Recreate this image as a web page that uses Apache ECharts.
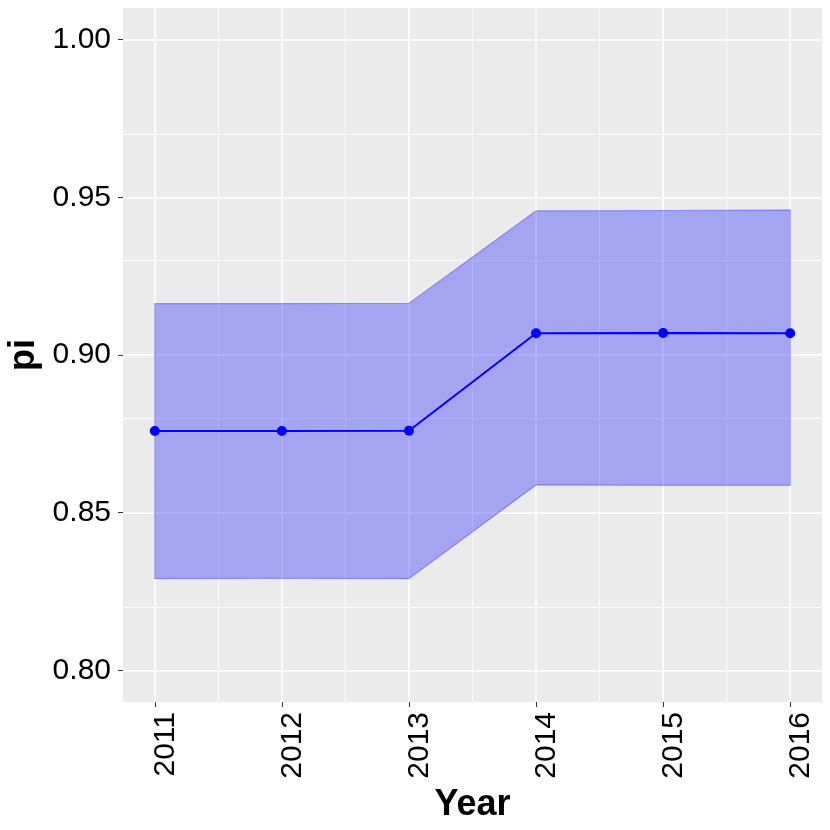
<!DOCTYPE html>
<html><head><meta charset="utf-8">
<script src="https://cdn.jsdelivr.net/npm/echarts@6/dist/echarts.min.js"></script>
<style>html,body{margin:0;padding:0;background:#fff}#c{width:830px;height:830px}</style>
</head><body><div id="c"></div>
<script>
const years = [2011, 2012, 2013, 2014, 2015, 2016];
const piMean = [0.8759, 0.8759, 0.8760, 0.9069, 0.9070, 0.9069];
const piLower = [0.8291, 0.8292, 0.8291, 0.8588, 0.8587, 0.8587];
const piUpper = [0.9163, 0.9163, 0.9164, 0.9457, 0.9458, 0.9460];
const yTicks = [0.80, 0.85, 0.90, 0.95, 1.00];
const yMinor = [0.825, 0.875, 0.925, 0.975];
const xTicks = [2011, 2012, 2013, 2014, 2015, 2016];
const xMinor = [2011.5, 2012.5, 2013.5, 2014.5, 2015.5];

const FONT = '"Liberation Sans", Arial, Helvetica, sans-serif';
const chart = echarts.init(document.getElementById('c'), null, {renderer: 'canvas'});

const gridLines = [];
xTicks.forEach(v => gridLines.push({xAxis: v, lineStyle: {width: 1.6}}));
yTicks.forEach(v => gridLines.push({yAxis: v, lineStyle: {width: 1.6}}));
xMinor.forEach(v => gridLines.push({xAxis: v, lineStyle: {width: 0.8}}));
yMinor.forEach(v => gridLines.push({yAxis: v, lineStyle: {width: 0.8}}));

chart.setOption({
  animation: false,
  backgroundColor: '#ffffff',
  grid: {left: 123, right: 8, top: 8, bottom: 128, show: true, backgroundColor: '#EBEBEB', borderWidth: 0,
    containLabel: false, outerBoundsMode: 'none'},
  xAxis: {
    type: 'value', min: 2010.75, max: 2016.25,
    axisLine: {show: false},
    axisTick: {show: true, length: 5, customValues: xTicks, lineStyle: {color: '#333333', width: 1}},
    axisLabel: {customValues: xTicks, rotate: 90, margin: 10, verticalAlign: 'top', lineHeight: 22, color: '#000', fontSize: 30, fontFamily: FONT,
      formatter: v => String(Math.round(v))},
    splitLine: {show: false},
    name: 'Year', nameLocation: 'middle', nameGap: 82,
    nameTextStyle: {fontSize: 36, fontWeight: 'bold', color: '#000', fontFamily: FONT}
  },
  yAxis: {
    type: 'value', min: 0.79, max: 1.01,
    axisLine: {show: false},
    axisTick: {show: true, length: 5, customValues: yTicks, lineStyle: {color: '#333333', width: 1}},
    axisLabel: {customValues: yTicks, margin: 12, color: '#000', fontSize: 30, fontFamily: FONT,
      formatter: v => v.toFixed(2)},
    splitLine: {show: false},
    name: 'pi', nameLocation: 'middle', nameGap: 76, nameRotate: 90,
    nameTextStyle: {fontSize: 36, fontWeight: 'bold', color: '#000', fontFamily: FONT}
  },
  series: [
    {
      type: 'line', data: [], z: 0, silent: true,
      markLine: {silent: true, z: 0, symbol: ['none', 'none'], label: {show: false},
        lineStyle: {color: '#ffffff', type: 'solid'}, animation: false, data: gridLines}
    },
    {
      type: 'custom', z: 3, silent: true,
      data: [[years[0], piLower[0]]],
      renderItem: function (params, api) {
        const pts = [];
        for (let i = 0; i < years.length; i++) pts.push(api.coord([years[i], piUpper[i]]));
        for (let i = years.length - 1; i >= 0; i--) pts.push(api.coord([years[i], piLower[i]]));
        return {type: 'polygon', shape: {points: pts},
          style: {fill: 'rgba(0,0,255,0.3)', stroke: 'rgba(0,0,255,0.3)', lineWidth: 1.2}};
      }
    },
    {
      type: 'line', z: 6,
      data: years.map((y, i) => [y, piMean[i]]),
      symbol: 'circle', symbolSize: 10,
      itemStyle: {color: '#0000FF', borderWidth: 0},
      lineStyle: {color: '#0000FF', width: 2}
    }
  ]
});
</script></body></html>
